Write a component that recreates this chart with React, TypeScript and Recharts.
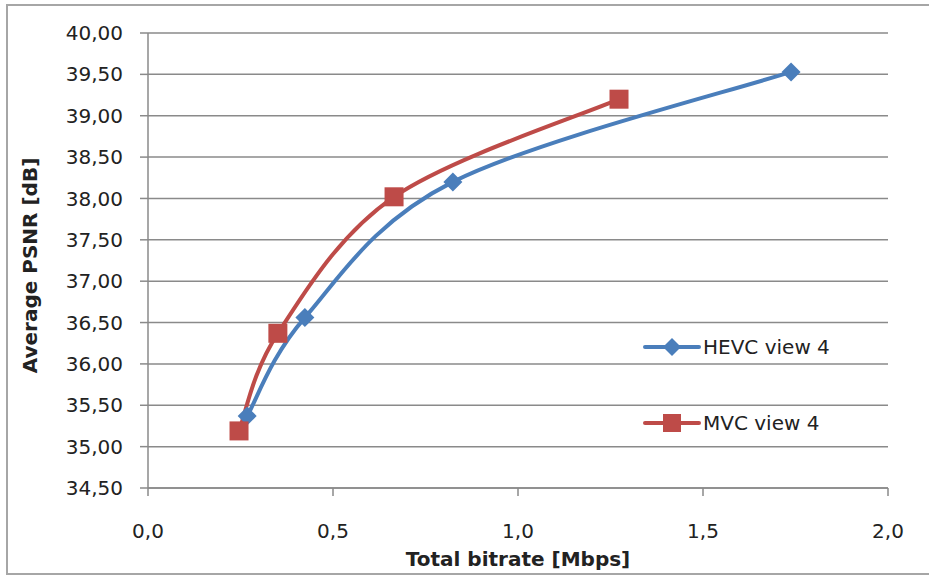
import React from 'react';
import { LineChart, Line, XAxis, YAxis, CartesianGrid } from 'recharts';

const hevcRate = [0.268, 0.424, 0.824, 1.738];
const hevcPsnr = [35.37, 36.56, 38.2, 39.53];
const mvcRate = [0.246, 0.351, 0.665, 1.273];
const mvcPsnr = [35.19, 36.37, 38.02, 39.2];
const xTicks = [0, 0.5, 1, 1.5, 2];
const yTicks = [34.5, 35, 35.5, 36, 36.5, 37, 37.5, 38, 38.5, 39, 39.5, 40];
const seriesNames = ['HEVC view 4', 'MVC view 4'];

const BLUE = '#4A7EBB';
const RED = '#BE4B48';
const GRID = '#8a8a8a';
const FONT = 'DejaVu Sans, sans-serif';

const hevcData = hevcRate.map((x, i) => ({ x, y: hevcPsnr[i] }));
const mvcData = mvcRate.map((x, i) => ({ x, y: mvcPsnr[i] }));

const fmtY = (v: number) => v.toFixed(2).replace('.', ',');
const fmtX = (v: number) => v.toFixed(1).replace('.', ',');

// Excel-like smoothed line: cubic Bezier with Catmull-Rom style control points
const excelSmooth = (context: any) => {
  let pts: [number, number][] = [];
  return {
    areaStart() {},
    areaEnd() {},
    lineStart() {
      pts = [];
    },
    lineEnd() {
      const n = pts.length;
      if (n === 0) return;
      context.moveTo(pts[0][0], pts[0][1]);
      if (n === 1) return;
      for (let i = 0; i < n - 1; i++) {
        const p0 = pts[Math.max(0, i - 1)];
        const p1 = pts[i];
        const p2 = pts[i + 1];
        const p3 = pts[Math.min(n - 1, i + 2)];
        const c1x = p1[0] + (p2[0] - p0[0]) / 6;
        const c1y = p1[1] + (p2[1] - p0[1]) / 6;
        const c2x = p2[0] - (p3[0] - p1[0]) / 6;
        const c2y = p2[1] - (p3[1] - p1[1]) / 6;
        context.bezierCurveTo(c1x, c1y, c2x, c2y, p2[0], p2[1]);
      }
    },
    point(x: number, y: number) {
      pts.push([+x, +y]);
    },
  };
};

const Diamond = (props: any) => {
  const { cx, cy } = props;
  if (cx == null || cy == null) return null;
  const r = 9.5;
  return (
    <path
      key={`d-${cx}`}
      d={`M${cx},${cy - r}L${cx + r},${cy}L${cx},${cy + r}L${cx - r},${cy}Z`}
      fill={BLUE}
    />
  );
};

const Square = (props: any) => {
  const { cx, cy } = props;
  if (cx == null || cy == null) return null;
  const s = 19;
  return <rect key={`s-${cx}`} x={cx - s / 2} y={cy - s / 2} width={s} height={s} fill={RED} />;
};

const LegendBox = () => {
  const items = [
    { name: seriesNames[0], color: BLUE, shape: 'diamond' },
    { name: seriesNames[1], color: RED, shape: 'square' },
  ];
  return (
    <div style={{ position: 'absolute', left: 643, top: 327, fontFamily: FONT, fontSize: 20, color: '#222' }}>
      {items.map((it, i) => (
        <div key={it.name} style={{ display: 'flex', alignItems: 'center', height: 40, marginBottom: i === 0 ? 36 : 0 }}>
          <svg width={58} height={24} style={{ marginRight: 2 }}>
            <line x1={2} y1={12} x2={56} y2={12} stroke={it.color} strokeWidth={4} strokeLinecap="round" />
            {it.shape === 'diamond' ? (
              <path d="M29,3L38,12L29,21L20,12Z" fill={it.color} />
            ) : (
              <rect x={20} y={3} width={18} height={18} fill={it.color} />
            )}
          </svg>
          <span style={{ whiteSpace: 'nowrap' }}>{it.name}</span>
        </div>
      ))}
    </div>
  );
};

const YTitle = (props: any) => {
  const vb = props.viewBox || {};
  const x = (vb.x || 0) + 30;
  const y = (vb.y || 0) + (vb.height || 0) / 2 + 5;
  return (
    <text
      x={x}
      y={y}
      transform={`rotate(-90, ${x}, ${y})`}
      textAnchor="middle"
      dominantBaseline="central"
      fontFamily={FONT}
      fontSize={20}
      fontWeight="bold"
      fill="#222"
    >
      Average PSNR [dB]
    </text>
  );
};

export default function App() {
  return (
    <div style={{ position: 'absolute', left: 0, top: 0, width: 929, height: 577, background: '#fff', overflow: 'hidden' }}>
      <div
        style={{
          position: 'absolute',
          left: 6,
          top: 4,
          width: 940,
          height: 571,
          border: '2px solid #a6a6a6',
          boxSizing: 'border-box',
        }}
      />
      <LineChart
        width={929}
        height={577}
        margin={{ top: 33, right: 41, left: 0, bottom: 0 }}
        style={{ position: 'absolute', left: 0, top: 0 }}
      >
        <CartesianGrid horizontal vertical={false} stroke={GRID} strokeWidth={1.5} />
        <XAxis
          type="number"
          dataKey="x"
          domain={[0, 2]}
          ticks={xTicks}
          tickFormatter={fmtX}
          height={89}
          allowDataOverflow
          axisLine={{ stroke: GRID, strokeWidth: 1.5 }}
          tickLine={{ stroke: GRID, strokeWidth: 1.5 }}
          tickSize={8}
          tickMargin={28}
          tick={{ fontFamily: FONT, fontSize: 20, fill: '#222' }}
          label={{
            value: 'Total bitrate [Mbps]',
            position: 'insideBottom',
            offset: 11,
            style: { fontFamily: FONT, fontSize: 20, fontWeight: 'bold', fill: '#222' },
          }}
        />
        <YAxis
          type="number"
          dataKey="y"
          domain={[34.5, 40]}
          ticks={yTicks}
          tickFormatter={fmtY}
          width={148}
          interval={0}
          allowDataOverflow
          axisLine={{ stroke: GRID, strokeWidth: 1.5 }}
          tickLine={{ stroke: GRID, strokeWidth: 1.5 }}
          tickSize={8}
          tickMargin={17}
          tick={{ fontFamily: FONT, fontSize: 20, fill: '#222' }}
          label={<YTitle />}
        />
        <Line
          name={seriesNames[0]}
          data={hevcData}
          dataKey="y"
          type={excelSmooth as any}
          stroke={BLUE}
          strokeWidth={4}
          dot={<Diamond />}
          activeDot={false}
          isAnimationActive={false}
        />
        <Line
          name={seriesNames[1]}
          data={mvcData}
          dataKey="y"
          type={excelSmooth as any}
          stroke={RED}
          strokeWidth={4}
          dot={<Square />}
          activeDot={false}
          isAnimationActive={false}
        />
      </LineChart>
      <LegendBox />
    </div>
  );
}
